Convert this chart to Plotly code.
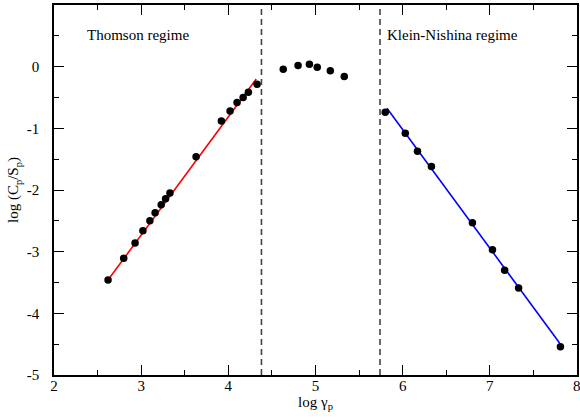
import plotly.graph_objects as go

# Thomson regime points
thomson_x = [2.62, 2.80, 2.93, 3.02, 3.10, 3.16, 3.23, 3.28, 3.33, 3.63, 3.92, 4.02, 4.10, 4.17, 4.23, 4.33]
thomson_y = [-3.46, -3.105, -2.86, -2.66, -2.50, -2.37, -2.24, -2.14, -2.05, -1.46, -0.88, -0.72, -0.58, -0.50, -0.415, -0.285]
# transition points
mid_x = [4.63, 4.80, 4.93, 5.02, 5.17, 5.33]
mid_y = [-0.04, 0.02, 0.04, -0.01, -0.065, -0.16]
# Klein-Nishina regime points
kn_x = [5.80, 6.03, 6.17, 6.33, 6.80, 7.03, 7.17, 7.33, 7.81]
kn_y = [-0.74, -1.08, -1.37, -1.62, -2.53, -2.97, -3.30, -3.59, -4.54]
# fit lines
red_fit_x = [2.62, 4.32]
red_fit_y = [-3.46, -0.20]
blue_fit_x = [5.82, 7.80]
blue_fit_y = [-0.675, -4.48]
# regime boundaries
bounds_x = [4.38, 5.74]
# ticks
x_ticks = [2, 3, 4, 5, 6, 7, 8]
x_ticklabels = ["2", "3", "4", "5", "6", "7", "8"]
y_ticks = [-5, -4, -3, -2, -1, 0, 1]
y_ticklabels = ["-5", "-4", "-3", "-2", "-1", "0", "1"]

FONT = "Liberation Serif"

fig = go.Figure()
fig.add_trace(go.Scatter(x=red_fit_x, y=red_fit_y, mode="lines",
                         line=dict(color="#ff0000", width=1.6), showlegend=False))
fig.add_trace(go.Scatter(x=blue_fit_x, y=blue_fit_y, mode="lines",
                         line=dict(color="#0000ff", width=1.6), showlegend=False))
all_x = thomson_x + mid_x + kn_x
all_y = thomson_y + mid_y + kn_y
fig.add_trace(go.Scatter(x=all_x, y=all_y, mode="markers",
                         marker=dict(color="black", size=7.5), showlegend=False))

for bx in bounds_x:
    fig.add_shape(type="line", xref="x", yref="paper", x0=bx, x1=bx, y0=0, y1=1,
                  line=dict(color="#444444", width=1.6, dash="6px,4px"))

fig.add_annotation(x=2.96, y=0.51, text="Thomson regime", showarrow=False,
                   xanchor="center", yanchor="middle", font=dict(family=FONT, size=15, color="black"))
fig.add_annotation(x=6.57, y=0.51, text="Klein-Nishina regime", showarrow=False,
                   xanchor="center", yanchor="middle", font=dict(family=FONT, size=15, color="black"))

axis_common = dict(showgrid=False, zeroline=False, showline=True, linecolor="black",
                   linewidth=1.6, ticks="inside", ticklen=10, tickwidth=1.3, tickcolor="black",
                   mirror="allticks", tickfont=dict(family=FONT, size=15, color="black"),
                   minor=dict(ticks="inside", ticklen=5, tickwidth=1.3, tickcolor="black", dtick=0.5))

fig.update_xaxes(range=[2, 8], tickvals=x_ticks, ticktext=x_ticklabels,
                 title=dict(text="log γ<sub>p</sub>", font=dict(family=FONT, size=15, color="black"), standoff=0),
                 ticklabelstandoff=-4, **axis_common)
fig.update_yaxes(range=[-5, 1], tickvals=y_ticks, ticktext=y_ticklabels,
                 title=dict(text="log (C<sub>p</sub>/S<sub>p</sub>)", font=dict(family=FONT, size=15, color="black"), standoff=4),
                 ticklabelstandoff=10, **axis_common)

# the "8" label sits at the very edge of the page; draw it explicitly
fig.add_annotation(x=x_ticks[-1], y=0, xref="x", yref="paper", text=x_ticklabels[-1],
                   showarrow=False, xanchor="center", yanchor="top", yshift=-1,
                   font=dict(family=FONT, size=15, color="black"))

fig.update_layout(width=580, height=418, margin=dict(l=54, r=1, t=5, b=43),
                  plot_bgcolor="white", paper_bgcolor="white",
                  font=dict(family=FONT, size=15, color="black"))

fig.write_html("out.html")
